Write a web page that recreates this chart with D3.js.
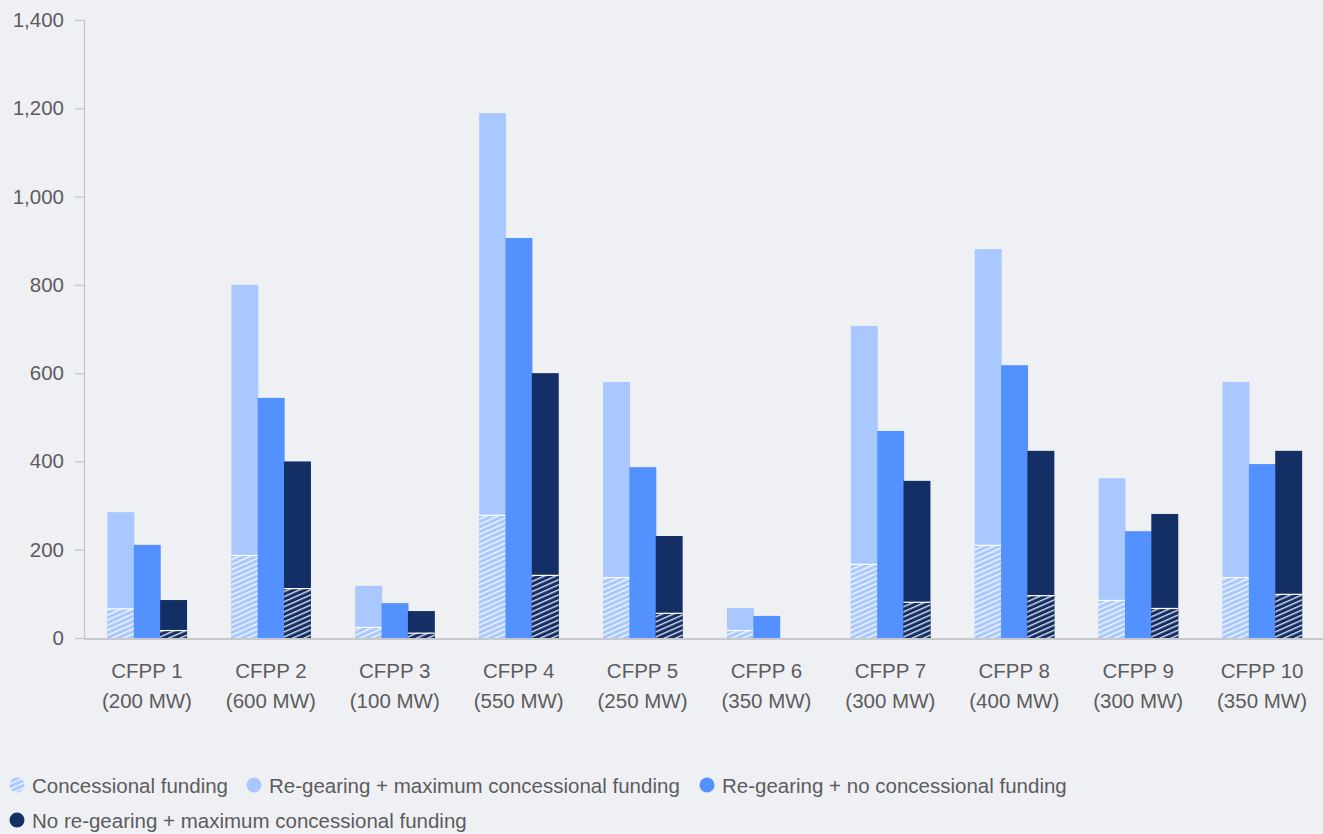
<!DOCTYPE html>
<html>
<head>
    <meta charset="utf-8">
    <script src="https://cdn.jsdelivr.net/npm/d3@7/dist/d3.min.js"></script>
    <title>CFPP funding chart</title>
    <style>
        body { margin: 0; background: #eff0f4; }
        svg text { font-family: "Liberation Sans", Arial, sans-serif; font-weight: 400; fill: #5c5c5c; }
    </style>
</head>
<body>
    <div id="chart"></div>
    <script>
        // values
        const plants = ["CFPP 1", "CFPP 2", "CFPP 3", "CFPP 4", "CFPP 5", "CFPP 6", "CFPP 7", "CFPP 8", "CFPP 9", "CFPP 10"];
        const capacity = ["(200 MW)", "(600 MW)", "(100 MW)", "(550 MW)", "(250 MW)", "(350 MW)", "(300 MW)", "(400 MW)", "(300 MW)", "(350 MW)"];
        const regearMax = [285, 800, 118, 1189, 580, 68, 707, 881, 362, 580];
        const regearNone = [211, 544, 79, 906, 387, 50, 469, 618, 242, 394];
        const noRegearMax = [86, 400, 61, 600, 231, 0, 356, 424, 281, 424];
        const concRegear = [67, 188, 25, 279, 138, 18, 168, 211, 86, 138];   // hatched part of light bars
        const concNoRegear = [18, 113, 12, 143, 57, 0, 82, 97, 68, 100];    // hatched part of dark bars
        const yTicks = [0, 200, 400, 600, 800, 1000, 1200, 1400];

        const seriesNames = ["Concessional funding", "Re-gearing + maximum concessional funding",
            "Re-gearing + no concessional funding", "No re-gearing + maximum concessional funding"];
        const colors = { light: "#a8c8ff", mid: "#5291ff", dark: "#142f66" };

        const width = 1323, height = 834;
        const plot = { left: 84, right: 1323, top: 20, bottom: 638 };

        const svg = d3.select("#chart").append("svg")
            .attr("width", width)
            .attr("height", height);

        // hatch patterns
        const defs = svg.append("defs");
        function hatch(id, base, stripe) {
            const p = defs.append("pattern")
                .attr("id", id)
                .attr("patternUnits", "userSpaceOnUse")
                .attr("width", 10)
                .attr("height", 4.6)
                .attr("patternTransform", "rotate(-24)");
            p.append("rect").attr("width", 10).attr("height", 4.6).attr("fill", base);
            p.append("rect").attr("y", 0).attr("width", 10).attr("height", 1.4).attr("fill", stripe);
        }
        hatch("hatchLight", colors.light, "#f4f7ff");
        hatch("hatchDark", colors.dark, "#d8dce6");

        const x0 = d3.scaleBand().domain(plants).range([plot.left, plot.right]);
        const groupW = 79;
        const x1 = d3.scaleBand().domain([0, 1, 2]).range([0, groupW]);
        const y = d3.scaleLinear().domain([0, 1400]).range([plot.bottom, plot.top]);

        // y axis
        const yAxis = svg.append("g")
            .attr("transform", `translate(${plot.left},0)`)
            .call(d3.axisLeft(y).tickValues(yTicks).tickSize(9).tickPadding(11).tickFormat(d3.format(",")));
        yAxis.select(".domain").attr("stroke", "#c4c4c8").attr("stroke-width", 1.2);
        yAxis.selectAll(".tick line").attr("stroke", "#c4c4c8").attr("stroke-width", 1.2);
        yAxis.selectAll(".tick text").style("font-size", "20.5px").attr("fill", "#5c5c5c")
            .style("font-family", "'Liberation Sans', Arial, sans-serif");

        const rows = plants.map((p, i) => ({ p, i }));
        const groups = svg.append("g").selectAll("g")
            .data(rows)
            .join("g")
            .attr("transform", d => `translate(${x0(d.p) + (x0.bandwidth() - groupW) / 2 + 1},0)`);

        const barW = x1.bandwidth() + 0.6;
        function bar(g, k, vals, fill) {
            g.filter(d => vals[d.i] > 0).append("rect")
                .attr("x", x1(k)).attr("width", barW)
                .attr("y", d => y(vals[d.i]))
                .attr("height", d => y(0) - y(vals[d.i]))
                .attr("fill", fill);
        }
        function hatchBar(g, k, vals, pat) {
            const h = g.filter(d => vals[d.i] > 0);
            h.append("rect")
                .attr("x", x1(k)).attr("width", barW)
                .attr("y", d => y(vals[d.i]))
                .attr("height", d => y(0) - y(vals[d.i]))
                .attr("fill", `url(#${pat})`);
            h.append("line")
                .attr("x1", x1(k)).attr("x2", x1(k) + barW)
                .attr("y1", d => y(vals[d.i]) + 0.5).attr("y2", d => y(vals[d.i]) + 0.5)
                .attr("stroke", "#ffffff").attr("stroke-width", 1.2);
        }
        bar(groups, 0, regearMax, colors.light);
        hatchBar(groups, 0, concRegear, "hatchLight");
        bar(groups, 1, regearNone, colors.mid);
        bar(groups, 2, noRegearMax, colors.dark);
        hatchBar(groups, 2, concNoRegear, "hatchDark");

        // baseline
        svg.append("line")
            .attr("x1", plot.left).attr("x2", plot.right)
            .attr("y1", y(0) + 1).attr("y2", y(0) + 1)
            .attr("stroke", "#c8c9cd").attr("stroke-width", 2);

        // category labels
        const labels = svg.append("g").selectAll("text")
            .data(rows)
            .join("text")
            .attr("text-anchor", "middle")
            .attr("x", d => x0(d.p) + x0.bandwidth() / 2 + 1)
            .style("font-size", "20.5px");
        labels.append("tspan").attr("x", d => x0(d.p) + x0.bandwidth() / 2 + 1).attr("y", 678).text(d => d.p);
        labels.append("tspan").attr("x", d => x0(d.p) + x0.bandwidth() / 2 + 1).attr("y", 708).text(d => capacity[d.i]);

        // legend
        const legendFills = ["url(#hatchLight)", colors.light, colors.mid, colors.dark];
        const legendPos = [[17, 785], [254, 785], [707, 785], [17, 820]];
        const legend = svg.append("g").selectAll("g")
            .data(seriesNames)
            .join("g")
            .attr("transform", (d, i) => `translate(${legendPos[i][0]},${legendPos[i][1]})`);
        legend.append("circle").attr("r", 7.5).attr("fill", (d, i) => legendFills[i]);
        legend.append("text")
            .attr("x", 15).attr("y", 7.5)
            .style("font-size", "20.5px")
            .text(d => d);
    </script>
</body>
</html>
